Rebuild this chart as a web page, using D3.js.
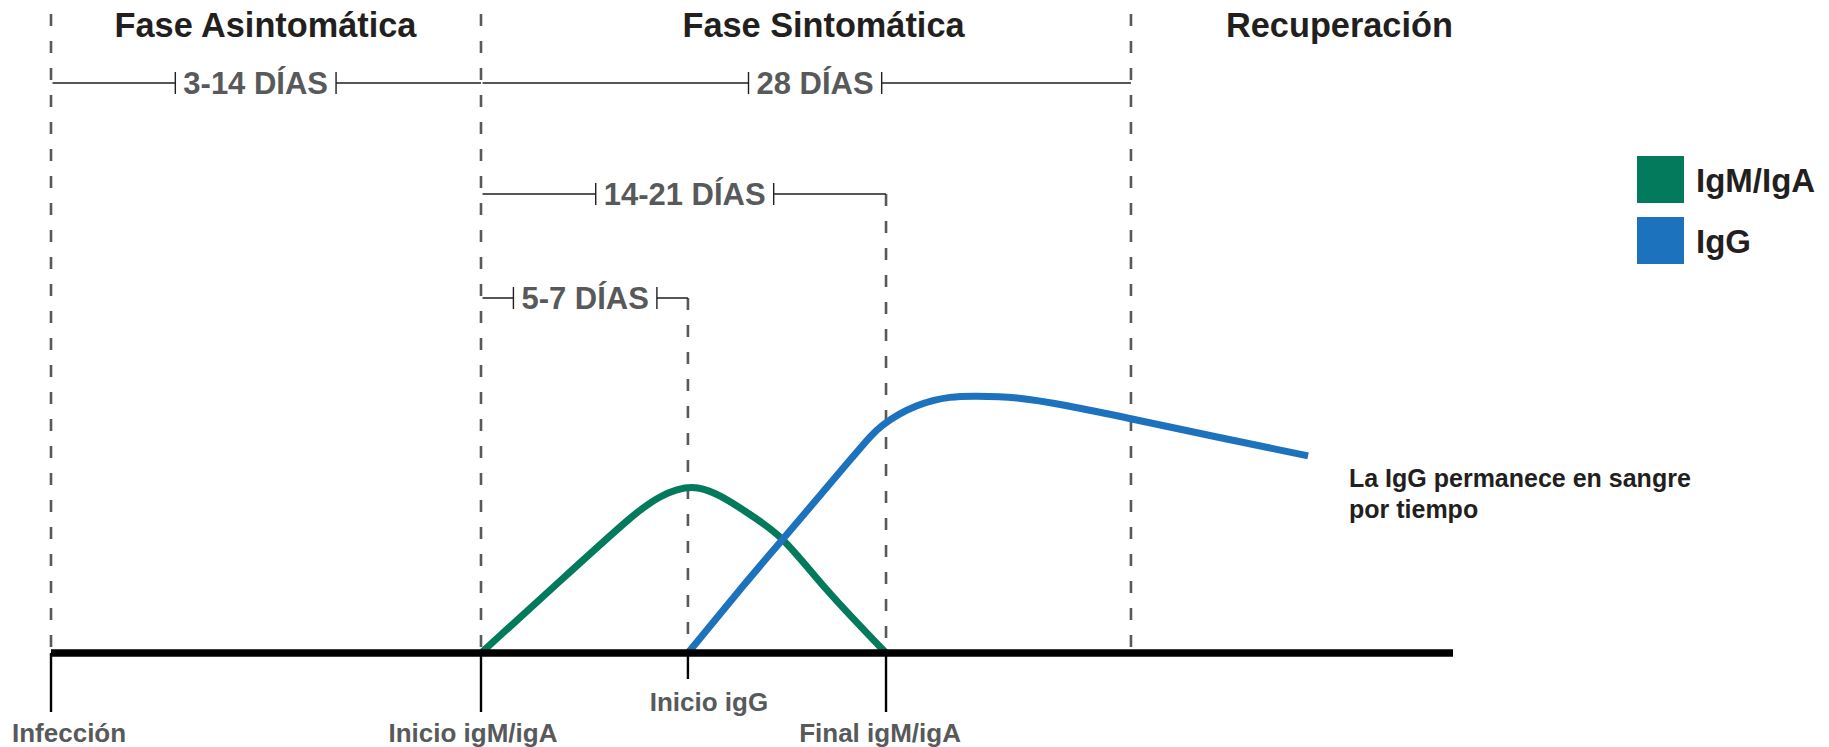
<!DOCTYPE html>
<html>
<head>
<meta charset="utf-8">
<script src="https://cdn.jsdelivr.net/npm/d3@7"></script>
<style>
    body { margin: 0; background: #fff; }
    #chart-area { width: 1829px; height: 747px; }
    text { font-family: "Liberation Sans", Arial, Helvetica, sans-serif; font-weight: bold; }
</style>
</head>
<body>
<div id="chart-area"></div>
<script>
// time is in arbitrary units along the axis (0 = infection, 100 = end of axis)
const eventLabels = ["Infección", "Inicio igM/igA", "Inicio igG", "Final igM/igA"];
const eventTimes = [0, 30.67, 45.43, 59.56];
const eventShortTick = [false, false, true, false];
const recoveryTime = 77.03;

const phaseLabels = ["Fase Asintomática", "Fase Sintomática", "Recuperación"];
const phaseLabelAt = [15.3, 55.1, 91.9];

const dimLabels = ["3-14 DÍAS", "28 DÍAS", "14-21 DÍAS", "5-7 DÍAS"];
const dimFrom = [0, 30.67, 30.67, 30.67];
const dimTo = [30.67, 77.03, 59.56, 45.43];
const dimLabelAt = [14.6, 54.5, 45.2, 38.1];
const dimRow = [0, 0, 1, 2];

// antibody level (0-100)
const igmT = [30.67, 36.31, 41.08, 43.44, 46.15, 49.36, 52.21, 55.35, 59.56];
const igmV = [0, 24, 44, 52, 55, 47.7, 37.7, 21, 0];
const iggT = [45.43, 49.36, 52.21, 56.99, 59.34, 61.77, 64.12, 66.05, 68.9, 72.47, 77.1, 83.17, 89.66];
const iggV = [0, 22.3, 38, 64.3, 76, 82.4, 85.2, 85.6, 85, 82.4, 78, 72, 65.7];

const seriesNames = ["IgM/IgA", "IgG"];
const seriesColors = ["#037a5c", "#1c72bc"];

const note = ["La IgG permanece en sangre", "por tiempo"];

class timelineVis {
    constructor(parentElement) {
        this.parentElement = parentElement;
        this.initVis();
    }

    initVis() {
        let vis = this;

        vis.width = 1829;
        vis.height = 747;

        vis.svg = d3.select("#" + vis.parentElement)
            .append("svg")
            .attr("width", vis.width)
            .attr("height", vis.height);

        vis.x = d3.scaleLinear().domain([0, 100]).range([51, 1453]);
        vis.y = d3.scaleLinear().domain([0, 100]).range([653, 353]);
        vis.rowY = d3.scaleOrdinal().domain([0, 1, 2]).range([83, 194, 298]);

        // small nudges of the event labels (px), as in the original drawing
        vis.labelNudge = [0, -8, 21, -6];

        vis.wrangleData();
    }

    wrangleData() {
        let vis = this;

        vis.series = [
            { name: seriesNames[0], color: seriesColors[0], values: igmT.map((t, i) => ({ t: t, v: igmV[i] })) },
            { name: seriesNames[1], color: seriesColors[1], values: iggT.map((t, i) => ({ t: t, v: iggV[i] })) }
        ];

        // dashed guides: full height for phase boundaries, from the dimension row otherwise
        vis.guides = [
            { t: eventTimes[0], top: 14 },
            { t: eventTimes[1], top: 14 },
            { t: recoveryTime, top: 14 },
            { t: eventTimes[2], top: vis.rowY(2) },
            { t: eventTimes[3], top: vis.rowY(1) }
        ];

        vis.dims = dimLabels.map((d, i) => ({
            label: d, from: dimFrom[i], to: dimTo[i], at: dimLabelAt[i], row: dimRow[i]
        }));

        vis.updateVis();
    }

    updateVis() {
        let vis = this;
        let base = vis.y(0);

        // guides
        vis.svg.append("g").selectAll("line")
            .data(vis.guides)
            .enter().append("line")
            .attr("x1", d => vis.x(d.t)).attr("x2", d => vis.x(d.t))
            .attr("y1", d => d.top).attr("y2", base - 4)
            .attr("stroke", "#58595b")
            .attr("stroke-width", 2.6)
            .attr("stroke-dasharray", "12,15");

        // phase titles
        vis.svg.append("g").selectAll("text")
            .data(phaseLabels)
            .enter().append("text")
            .attr("x", (d, i) => vis.x(phaseLabelAt[i]))
            .attr("y", 37)
            .attr("text-anchor", "middle")
            .attr("font-size", 34.3)
            .attr("fill", "#231f20")
            .text(d => d);

        // dimension lines
        let dimG = vis.svg.append("g").selectAll("g")
            .data(vis.dims)
            .enter().append("g");

        dimG.each(function (d) {
            let g = d3.select(this);
            let yy = vis.rowY(d.row);
            let txt = g.append("text")
                .attr("x", vis.x(d.at))
                .attr("y", yy + 11)
                .attr("text-anchor", "middle")
                .attr("font-size", 31)
                .attr("fill", "#58595b")
                .text(d.label);
            let bb = txt.node().getBBox();
            let l = bb.x - 8, r = bb.x + bb.width + 8;
            let x0 = vis.x(d.from) + 1.5, x1 = vis.x(d.to);
            g.append("path")
                .attr("d", `M${x0},${yy}H${l}M${r},${yy}H${x1}M${l},${yy - 11}V${yy + 11}M${r},${yy - 11}V${yy + 11}`)
                .attr("fill", "none")
                .attr("stroke", "#231f20")
                .attr("stroke-width", 1.4);
        });

        // curves
        let line = d3.line()
            .x(d => vis.x(d.t))
            .y(d => vis.y(d.v))
            .curve(d3.curveNatural);

        vis.svg.append("g").selectAll("path")
            .data(vis.series)
            .enter().append("path")
            .attr("d", d => line(d.values))
            .attr("fill", "none")
            .attr("stroke", d => d.color)
            .attr("stroke-width", 7);

        // axis
        vis.svg.append("line")
            .attr("x1", vis.x(0)).attr("x2", vis.x(100))
            .attr("y1", base).attr("y2", base)
            .attr("stroke", "#000")
            .attr("stroke-width", 7.5);

        let ev = vis.svg.append("g").selectAll("g")
            .data(eventLabels)
            .enter().append("g");

        ev.append("line")
            .attr("x1", (d, i) => vis.x(eventTimes[i]))
            .attr("x2", (d, i) => vis.x(eventTimes[i]))
            .attr("y1", base)
            .attr("y2", (d, i) => eventShortTick[i] ? 679 : 712)
            .attr("stroke", "#000")
            .attr("stroke-width", 2.4);

        ev.append("text")
            .attr("x", (d, i) => vis.x(eventTimes[i]) + vis.labelNudge[i])
            .attr("y", (d, i) => eventShortTick[i] ? 711 : 742)
            .attr("text-anchor", "middle")
            .attr("font-size", 26)
            .attr("fill", "#58595b")
            .text(d => d)
            .each(function () {
                // keep the first label inside the page
                let bb = this.getBBox();
                if (bb.x < 12) d3.select(this).attr("x", +d3.select(this).attr("x") + (12 - bb.x));
            });

        // legend
        let leg = vis.svg.append("g").selectAll("g")
            .data(vis.series)
            .enter().append("g")
            .attr("transform", (d, i) => `translate(1637, ${156 + i * 61})`);

        leg.append("rect")
            .attr("width", 47).attr("height", 47)
            .attr("fill", d => d.color);

        leg.append("text")
            .attr("x", 59).attr("y", 36)
            .attr("font-size", 33)
            .attr("fill", "#231f20")
            .text(d => d.name);

        // note
        vis.svg.append("g").selectAll("text")
            .data(note)
            .enter().append("text")
            .attr("x", 1349)
            .attr("y", (d, i) => 487 + i * 31)
            .attr("font-size", 25)
            .attr("fill", "#231f20")
            .text(d => d);
    }
}

new timelineVis("chart-area");
</script>
</body>
</html>
